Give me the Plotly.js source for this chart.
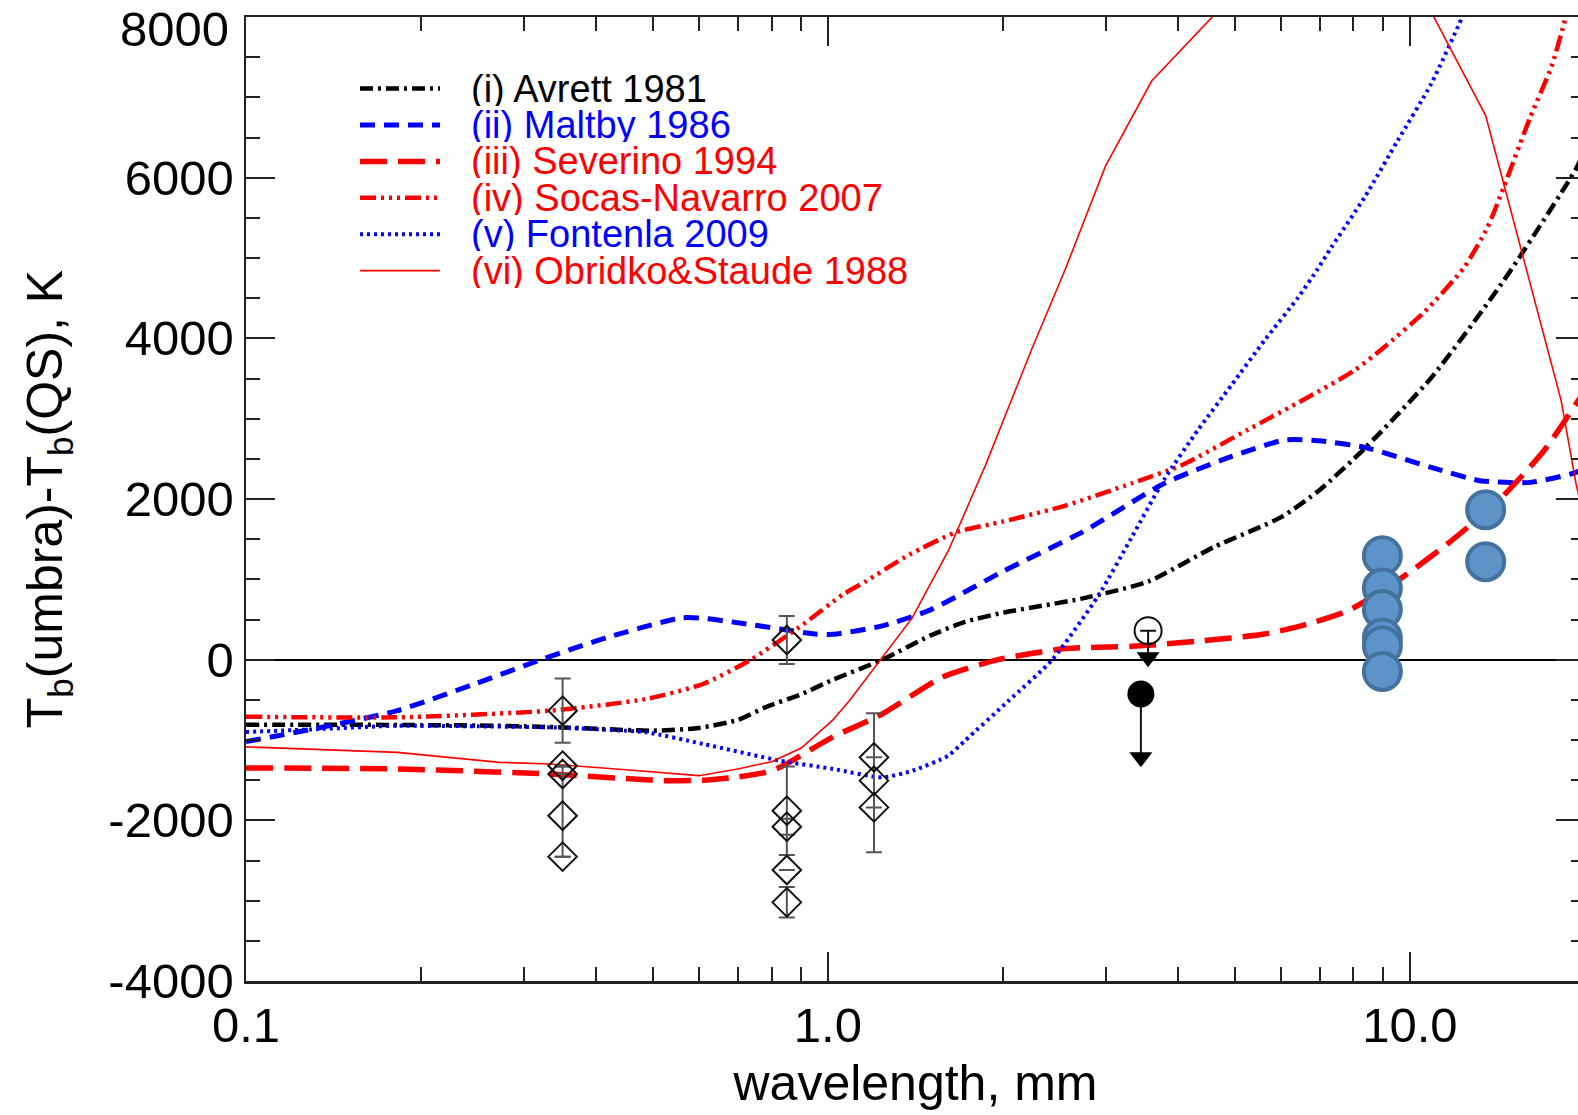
<!DOCTYPE html>
<html>
<head>
<meta charset="utf-8">
<script src="https://cdn.plot.ly/plotly-3.0.1.min.js"></script>
<style>
html, body { margin: 0; padding: 0; overflow: hidden; background: #fff; }
#chart { width: 1600px; height: 1115px; }
</style>
</head>
<body>
<div id="chart"></div>
<script>
// ---- data (wavelength in mm, Tb(umbra)-Tb(QS) in K) ----
const avrettX = [0.1, 0.15, 0.2, 0.27, 0.35, 0.5, 0.6, 0.7, 0.78, 0.9, 1.02, 1.24, 1.5, 1.72, 2.0, 2.73, 3.55, 4.6, 6.0, 7.0, 8.4, 10.9, 14.5, 19.3, 20];
const avrettY = [-810, -810, -815, -822, -843, -884, -850, -750, -594, -430, -250, 0, 300, 470, 585, 760, 972, 1400, 1771, 2113, 2643, 3514, 4718, 6109, 6350];

const maltbyX = [0.1, 0.135, 0.182, 0.247, 0.324, 0.418, 0.56, 0.61, 0.7, 0.827, 0.95, 1.02, 1.24, 1.5, 2.0, 2.73, 3.79, 4.94, 6.1, 6.95, 8.36, 10.88, 13.2, 16.1, 19.3, 20];
const maltbyY = [-1020, -842, -635, -303, 9, 278, 520, 515, 460, 382, 320, 315, 420, 620, 1100, 1585, 2196, 2530, 2735, 2726, 2643, 2394, 2228, 2207, 2332, 2400];

const severinoX = [0.1, 0.182, 0.333, 0.45, 0.525, 0.61, 0.7, 0.78, 0.827, 1.017, 1.24, 1.57, 1.96, 2.56, 3.33, 4.33, 5.63, 6.5, 7.83, 9.53, 11.6, 14.2, 17, 19.3, 20];
const severinoY = [-1348, -1361, -1423, -1480, -1506, -1500, -1460, -1403, -1340, -967, -676, -220, 0, 138, 166, 230, 320, 420, 610, 983, 1440, 1979, 2600, 3183, 3350];

const socasX = [0.1, 0.182, 0.333, 0.487, 0.61, 0.733, 0.892, 1.065, 1.16, 1.38, 1.66, 2.0, 2.56, 3.33, 4.05, 5.27, 6.6, 8.03, 9.0, 10.6, 12.4, 13.6, 14.5, 16.1, 17.5, 18.4, 20];
const socasY = [-710, -718, -635, -489, -303, -12, 402, 818, 972, 1307, 1585, 1720, 1918, 2196, 2419, 2863, 3245, 3600, 3880, 4330, 4884, 5382, 5880, 6751, 7374, 7914, 9000];

const fontenlaX = [0.1, 0.135, 0.182, 0.25, 0.333, 0.487, 0.61, 0.827, 1.02, 1.24, 1.4, 1.61, 1.72, 2.04, 2.43, 2.92, 3.33, 3.79, 4.33, 4.94, 5.63, 6.43, 6.95, 7.33, 8.36, 9.53, 10.88, 12.3, 13];
const fontenlaY = [-900, -863, -822, -830, -843, -905, -1049, -1257, -1360, -1465, -1380, -1195, -1008, -518, 0, 805, 1529, 2252, 2864, 3420, 3976, 4510, 4866, 5133, 5755, 6461, 7167, 7996, 8400];

const obridkoX = [0.1, 0.182, 0.273, 0.333, 0.45, 0.6, 0.7, 0.8, 0.9, 1.017, 1.087, 1.223, 1.395, 1.612, 1.865, 2.24, 2.56, 3.0, 3.6, 6.0, 9.0, 13.5, 18.2, 19.3, 20];
const obridkoY = [-1085, -1154, -1278, -1298, -1370, -1444, -1360, -1270, -1100, -760, -518, -29, 517, 1362, 2419, 3865, 4866, 6146, 7203, 8900, 9200, 6772, 3224, 2191, 1700];

const seriesNames = ["(i) Avrett 1981", "(ii) Maltby 1986", "(iii) Severino 1994", "(iv) Socas-Navarro 2007", "(v) Fontenla 2009", "(vi) Obridko&Staude 1988"];

// observations: open diamonds with error bars
const obsX = [0.35, 0.35, 0.35, 0.35, 0.35, 0.85, 0.85, 0.85, 0.85, 0.85, 1.2, 1.2, 1.2];
const obsY = [-635, -1320, -1423, -1942, -2452, 245, -1880, -2079, -2618, -3021, -1216, -1506, -1839];
const obsErrPlus = [400, 0, 0, 610, 0, 300, 550, 100, 0, 190, 0, 840, 0];
const obsErrMinus = [400, 0, 0, 510, 0, 300, 550, 100, 0, 190, 0, 890, 0];

// upper limits at ~3.5 mm
const openCircleX = [3.55];
const openCircleY = [361];
const openCircleDrop = [330];
const filledCircleX = [3.45];
const filledCircleY = [-427];
const filledCircleDrop = [790];
const arrowX = [3.55, 3.45];
const arrowY = [29, -1216];

// blue ellipses
const blueX = [8.97, 8.97, 8.97, 8.97, 8.97, 8.97, 13.5, 13.5];
const blueY = [1295, 893, 623, 270, 174, -146, 1867, 1220];

// axis ticks
const xTickVals = [0.1, 1, 10];
const xTickText = ["0.1", "1.0", "10.0"];
const xMinorVals = [0.2, 0.3, 0.4, 0.5, 0.6, 0.7, 0.8, 0.9, 2, 3, 4, 5, 6, 7, 8, 9, 20];
const yTickVals = [-4000, -2000, 0, 2000, 4000, 6000, 8000];
const yTickText = ["-4000", "-2000", "0", "2000", "4000", "6000", "8000"];

// ---- styles ----
const styles = [
  {color: "#000000", width: 4.5, dash: "13px,5px,3px,5px", shape: "spline"},
  {color: "#0000ff", width: 5, dash: "15px,9px", shape: "spline"},
  {color: "#ff0000", width: 5.5, dash: "27px,11px", shape: "spline"},
  {color: "#ff0000", width: 4.5, dash: "16px,5px,3px,5px,3px,5px,3px,5px", shape: "spline"},
  {color: "#0000ff", width: 4, dash: "3px,4px", shape: "spline"},
  {color: "#ff0000", width: 1.6, dash: "solid", shape: "linear"}
];
const seriesData = [
  [avrettX, avrettY], [maltbyX, maltbyY], [severinoX, severinoY],
  [socasX, socasY], [fontenlaX, fontenlaY], [obridkoX, obridkoY]
];

const FONT = "Liberation Sans, Arial, Helvetica, sans-serif";

const traces = seriesData.map((d, i) => ({
  x: d[0], y: d[1], type: "scatter", mode: "lines", name: seriesNames[i],
  line: {color: styles[i].color, width: styles[i].width, dash: styles[i].dash,
         shape: styles[i].shape, smoothing: 0.6},
  showlegend: false, hoverinfo: "skip"
}));

traces.push({
  x: obsX, y: obsY, type: "scatter", mode: "markers", showlegend: false,
  marker: {symbol: "diamond-open", size: 22, color: "#111", line: {width: 2, color: "#111"}},
  error_y: {type: "data", symmetric: false, array: obsErrPlus, arrayminus: obsErrMinus,
            color: "#555", thickness: 2, width: 8},
  cliponaxis: false
});
traces.push({
  x: openCircleX, y: openCircleY, type: "scatter", mode: "markers", showlegend: false,
  marker: {symbol: "circle-open", size: 27, color: "#111", line: {width: 2, color: "#111"}},
  error_y: {type: "data", symmetric: false, array: [0], arrayminus: openCircleDrop,
            color: "#111", thickness: 2, width: 8}
});
traces.push({
  x: filledCircleX, y: filledCircleY, type: "scatter", mode: "markers", showlegend: false,
  marker: {symbol: "circle", size: 27, color: "#000"},
  error_y: {type: "data", symmetric: false, array: [0], arrayminus: filledCircleDrop,
            color: "#111", thickness: 2, width: 0}
});
traces.push({
  x: arrowX, y: arrowY, type: "scatter", mode: "markers", showlegend: false,
  marker: {symbol: "triangle-down", size: 20, color: "#000"}
});
traces.push({
  x: blueX, y: blueY, type: "scatter", mode: "markers", showlegend: false,
  marker: {symbol: "circle", size: 37, color: "#5e93c9", line: {width: 4, color: "#44729f"}}
});

// ---- legend drawn as shapes + annotations ----
const plotW = 1600 - 246 - 15, plotH = 964;
const pxX = p => (p - 246) / plotW;
const pxY = p => 1 - (p - 17) / plotH;
const legendShapes = [], legendAnn = [];
seriesNames.forEach((nm, i) => {
  const yy = pxY(88.6 + i * 36.4);
  legendShapes.push({type: "line", xref: "paper", yref: "paper",
    x0: pxX(360), x1: pxX(440), y0: yy, y1: yy,
    line: {color: styles[i].color, width: styles[i].width, dash: styles[i].dash}});
  legendAnn.push({xref: "paper", yref: "paper", x: pxX(469), y: yy,
    xanchor: "left", yanchor: "middle", valign: "middle", height: 34, showarrow: false, text: nm,
    font: {family: FONT, size: 38, color: styles[i].color}});
});

// top y tick label sits just inside the picture (as in the original)
const topIdx = yTickText.length - 1;
const yTickTextShown = yTickText.map((t, i) => (i === topIdx ? "" : t));
legendAnn.push({xref: "paper", yref: "paper", x: pxX(231), y: pxY(29),
  xanchor: "right", yanchor: "middle", showarrow: false, text: yTickText[topIdx],
  font: {family: FONT, size: 49, color: "#000"}});

const layout = {
  width: 1600, height: 1115,
  margin: {l: 246, r: 15, t: 17, b: 134},
  paper_bgcolor: "#fff", plot_bgcolor: "#fff",
  font: {family: FONT, color: "#000"},
  showlegend: false,
  xaxis: {
    type: "log", range: [-1, Math.log10(20)],
    showline: true, mirror: "allticks", linecolor: "#222", linewidth: 2.5,
    ticks: "inside", ticklen: 29, tickwidth: 2, tickcolor: "#222",
    tickmode: "array", tickvals: xTickVals, ticktext: xTickText,
    tickfont: {family: FONT, size: 49, color: "#000"},
    ticklabeloverflow: "allow",
    minor: {tickmode: "array", tickvals: xMinorVals, ticks: "inside", ticklen: 14, tickwidth: 2, tickcolor: "#222", showgrid: false},
    showgrid: false, zeroline: false,
    title: {text: "wavelength, mm", font: {family: FONT, size: 50, color: "#000"}, standoff: 14}
  },
  yaxis: {
    range: [-4000, 8000],
    showline: true, mirror: "allticks", linecolor: "#222", linewidth: 2.5,
    ticks: "inside", ticklen: 29, tickwidth: 2, tickcolor: "#222",
    tickmode: "array", tickvals: yTickVals, ticktext: yTickTextShown,
    tickfont: {family: FONT, size: 49, color: "#000"},
    ticklabeloverflow: "allow",
    minor: {dtick: 500, ticks: "inside", ticklen: 14, tickwidth: 2, tickcolor: "#222", showgrid: false},
    showgrid: false, zeroline: true, zerolinecolor: "#000", zerolinewidth: 2,
    title: {text: "T<sub>b</sub>(umbra)-T<sub>b</sub>(QS), K", font: {family: FONT, size: 50, color: "#000"}, standoff: 30}
  },
  shapes: legendShapes,
  annotations: legendAnn
};

Plotly.newPlot("chart", traces, layout, {displayModeBar: false, staticPlot: true});
</script>
</body>
</html>
